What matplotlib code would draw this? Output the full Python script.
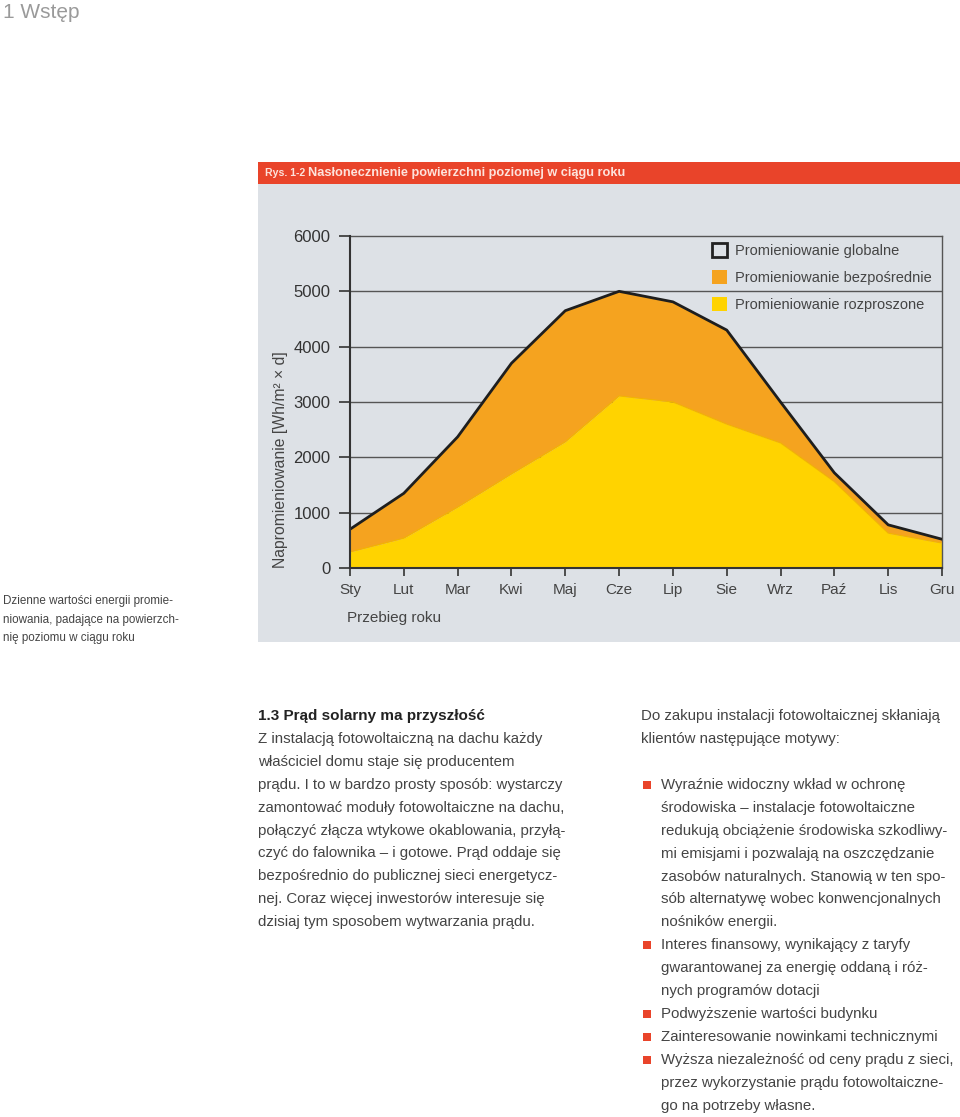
import numpy as np
import matplotlib.pyplot as plt
from matplotlib.patches import Rectangle, Patch

# Dane
miesiace = ['Sty', 'Lut', 'Mar', 'Kwi', 'Maj', 'Cze', 'Lip', 'Sie', 'Wrz', 'Paź', 'Lis', 'Gru']
globalne = [700, 1350, 2370, 3700, 4650, 5000, 4810, 4300, 3000, 1720, 780, 520]
rozproszone = [290, 540, 1100, 1700, 2280, 3110, 3000, 2600, 2260, 1560, 630, 450]
yticks = [0, 1000, 2000, 3000, 4000, 5000, 6000]

legenda = ['Promieniowanie globalne', 'Promieniowanie bezpośrednie', 'Promieniowanie rozproszone']

tekst_lewy = [
    'Z instalacją fotowoltaiczną na dachu każdy',
    'właściciel domu staje się producentem',
    'prądu. I to w bardzo prosty sposób: wystarczy',
    'zamontować moduły fotowoltaiczne na dachu,',
    'połączyć złącza wtykowe okablowania, przyłą-',
    'czyć do falownika – i gotowe. Prąd oddaje się',
    'bezpośrednio do publicznej sieci energetycz-',
    'nej. Coraz więcej inwestorów interesuje się',
    'dzisiaj tym sposobem wytwarzania prądu.',
]
wstep_prawy = [
    'Do zakupu instalacji fotowoltaicznej skłaniają',
    'klientów następujące motywy:',
]
punkty = [
    ['Wyraźnie widoczny wkład w ochronę',
     'środowiska – instalacje fotowoltaiczne',
     'redukują obciążenie środowiska szkodliwy-',
     'mi emisjami i pozwalają na oszczędzanie',
     'zasobów naturalnych. Stanowią w ten spo-',
     'sób alternatywę wobec konwencjonalnych',
     'nośników energii.'],
    ['Interes finansowy, wynikający z taryfy',
     'gwarantowanej za energię oddaną i róż-',
     'nych programów dotacji'],
    ['Podwyższenie wartości budynku'],
    ['Zainteresowanie nowinkami technicznymi'],
    ['Wyższa niezależność od ceny prądu z sieci,',
     'przez wykorzystanie prądu fotowoltaiczne-',
     'go na potrzeby własne.'],
]

W, H = 960, 1117
plt.rcParams['font.family'] = ['Liberation Sans', 'DejaVu Sans']

POMARANCZ = '#F5A31F'
ZOLTY = '#FFD300'
TLO = '#DDE1E6'
CZERWONY = '#E9442A'
CIEMNY = '#333333'


def fx(px):
    return px / W


def fy(py):
    return 1 - py / H


fig = plt.figure(figsize=(W / 100, H / 100), dpi=100)

# tło panelu i pasek tytułu (pod osiami)
fig.patches.append(Rectangle((fx(258), fy(642)), fx(960) - fx(258), fy(184) - fy(642),
                             transform=fig.transFigure, facecolor=TLO, edgecolor='none', zorder=-2))
fig.patches.append(Rectangle((fx(258), fy(184)), fx(960) - fx(258), fy(162) - fy(184),
                             transform=fig.transFigure, facecolor=CZERWONY, edgecolor='none', zorder=-2))
fig.text(fx(265), fy(173), 'Rys. 1-2', color='#FDE3DC', fontsize=7.6, fontweight='bold', va='center')
fig.text(fx(308), fy(173), 'Nasłonecznienie powierzchni poziomej w ciągu roku', color='#FDE3DC',
         fontsize=9.2, fontweight='bold', va='center')

fig.text(fx(3), fy(12), '1 Wstęp', color='#9A9A9A', fontsize=15, va='center')

# wykres
ax = fig.add_axes([fx(350), fy(568), fx(942) - fx(350), fy(236) - fy(568)])
ax.set_facecolor(TLO)
x = np.arange(len(miesiace))
for v in yticks[1:-1]:
    ax.axhline(v, color='#555555', lw=1, zorder=0)
ax.fill_between(x, 0, rozproszone, color=ZOLTY, lw=0, zorder=2)
ax.fill_between(x, rozproszone, globalne, color=POMARANCZ, lw=0, zorder=2)
ax.plot(x, rozproszone, color='#F2B400', lw=0.8, zorder=3)
ax.plot(x, globalne, color='#1E1E1E', lw=2, zorder=4, solid_joinstyle='round')

ax.set_xlim(0, len(miesiace) - 1)
ax.set_ylim(0, 6000)
ax.set_xticks(x)
ax.set_xticklabels(miesiace)
ax.set_yticks(yticks)
ax.tick_params(axis='y', length=8, width=1.2, color=CIEMNY, labelsize=12, labelcolor=CIEMNY, pad=6)
ax.tick_params(axis='x', length=6, width=1.2, color=CIEMNY, labelsize=11, labelcolor='#444444', pad=5)
for s in ['left', 'bottom']:
    ax.spines[s].set_color(CIEMNY)
    ax.spines[s].set_linewidth(1.5)
    ax.spines[s].set_zorder(5)
for s in ['top', 'right']:
    ax.spines[s].set_color('#555555')
    ax.spines[s].set_linewidth(1)

uchwyty = [Patch(facecolor='none', edgecolor='#222222', lw=2),
           Patch(facecolor=POMARANCZ, edgecolor='none'),
           Patch(facecolor=ZOLTY, edgecolor='none')]
leg = ax.legend(uchwyty, legenda, loc='upper left', bbox_to_anchor=(fx(712), fy(243)),
                bbox_transform=fig.transFigure, frameon=False, fontsize=10.5,
                handlelength=1.05, handleheight=1.05, handletextpad=0.55, labelspacing=0.85,
                borderpad=0, borderaxespad=0)
for t in leg.get_texts():
    t.set_color('#444444')

fig.text(fx(280), fy(568), 'Napromieniowanie [Wh/m² × d]', rotation=90, ha='center', va='bottom',
         fontsize=11.3, color='#444444')
fig.text(fx(347), fy(618), 'Przebieg roku', fontsize=11, color='#444444', va='center')

# podpis po lewej
for i, linia in enumerate(['Dzienne wartości energii promie-',
                           'niowania, padające na powierzch-',
                           'nię poziomu w ciągu roku']):
    fig.text(fx(3), fy(601 + i * 18.5), linia, fontsize=8.4, color='#444444', va='center')

# kolumny tekstu
kolor_tekstu = '#444444'
rozstaw = 22.9
fig.text(fx(258), fy(716), '1.3 Prąd solarny ma przyszłość', fontsize=11, fontweight='bold',
         color='#222222', va='center')
for i, linia in enumerate(tekst_lewy):
    fig.text(fx(258), fy(739 + i * rozstaw), linia, fontsize=10.8, color=kolor_tekstu, va='center')

for i, linia in enumerate(wstep_prawy):
    fig.text(fx(641), fy(716 + i * rozstaw), linia, fontsize=10.8, color=kolor_tekstu, va='center')

yp = 785
for punkt in punkty:
    fig.patches.append(Rectangle((fx(643), fy(yp + 4)), fx(8), fy(0) - fy(8),
                                 transform=fig.transFigure, facecolor=CZERWONY, edgecolor='none'))
    for linia in punkt:
        fig.text(fx(661), fy(yp), linia, fontsize=10.8, color=kolor_tekstu, va='center')
        yp += rozstaw

fig.savefig('out.png', dpi=100)
